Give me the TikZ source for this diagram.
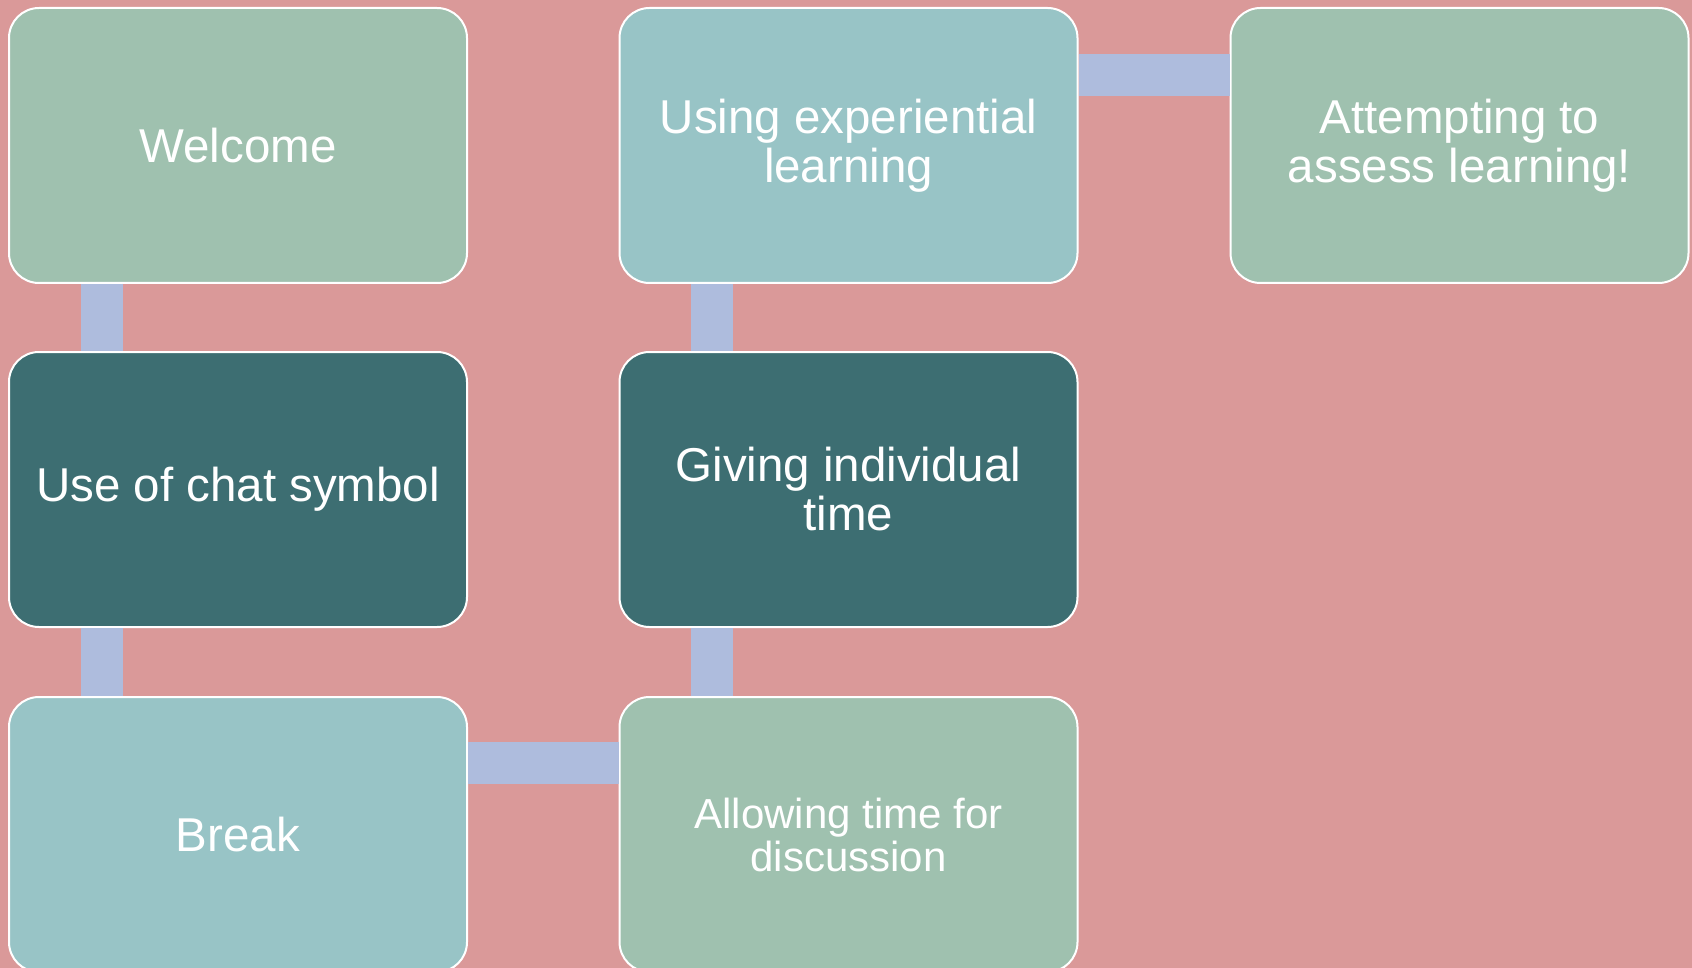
\documentclass[tikz,border=0pt]{standalone}
\usepackage{fontspec}
\setmainfont{Liberation Sans}
\definecolor{bgpink}{HTML}{DA9999}
\definecolor{boxgreen}{HTML}{9FC1AF}
\definecolor{boxteal}{HTML}{98C4C6}
\definecolor{boxdark}{HTML}{3D6E72}
\definecolor{linkblue}{HTML}{AEBCDD}
\begin{document}
\begin{tikzpicture}[x=1pt,y=-1pt, line join=round,
  box/.style={draw=white, line width=2pt, rounded corners=30pt, minimum width=458pt, minimum height=275pt, inner sep=0pt, text=white, align=center},
  link/.style={draw=linkblue, line width=42pt}]
\def \W{1692};
\def \H{968};
\useasboundingbox (0,0) rectangle (\W,\H);
\fill[bgpink] (0,0) rectangle (\W,\H);
\clip (0,0) rectangle (\W,\H);
% boxes of the bending process
\foreach \n/\x/\y/\c/\s/\b/\t in {welcome/238/145.5/boxgreen/47.5/49/{Welcome},
  chat/238/489.5/boxdark/47.5/49/{Use of chat symbol},
  break/238/834.5/boxteal/47.5/49/{Break},
  discuss/848.5/834.5/boxgreen/42/43/{Allowing time for\\discussion},
  individual/848.5/489.5/boxdark/47.5/49/{Giving individual\\time},
  experiential/848.5/145.5/boxteal/47.5/49/{Using experiential\\learning},
  assess/1459.5/145.5/boxgreen/47.5/49/{Attempting to\\assess learning!}}{
  \node[box, fill=\c, font=\fontsize{\s}{\b}\selectfont] (\n) at (\x,\y) {\t};}
% connectors
\draw[link] ([xshift=94pt]welcome.south west) -- ([xshift=94pt]chat.north west);
\draw[link] ([xshift=94pt]chat.south west) -- ([xshift=94pt]break.north west);
\draw[link] ([yshift=-67pt]break.north east) -- ([yshift=-67pt]discuss.north west);
\draw[link] ([xshift=93pt]discuss.north west) -- ([xshift=93pt]individual.south west);
\draw[link] ([xshift=93pt]individual.north west) -- ([xshift=93pt]experiential.south west);
\draw[link] ([yshift=-68pt]experiential.north east) -- ([yshift=-68pt]assess.north west);
\end{tikzpicture}
\end{document}
